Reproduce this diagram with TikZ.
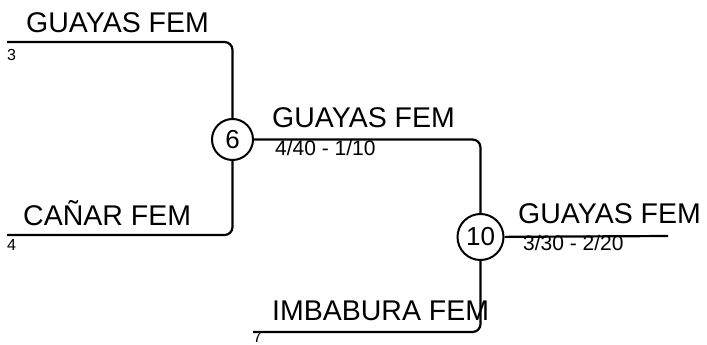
\documentclass[tikz,border=0pt]{standalone}
\usepackage{fontspec}
\setmainfont{Liberation Sans}
\usetikzlibrary{positioning}

\tikzset{
  team/.style={anchor=base west, inner sep=0pt, font=\fontsize{28.5}{30}\selectfont},
  score/.style={anchor=base west, inner sep=0pt, font=\fontsize{21}{22}\selectfont},
  seed/.style={anchor=base west, inner sep=0pt, font=\fontsize{16}{18}\selectfont},
  match/.style={draw, circle, line width=2pt, minimum size=41pt, inner sep=0pt,
    font=\fontsize{26}{28}\selectfont},
  bracket/.style={line width=2.2pt, rounded corners=8pt},
}

\begin{document}
\begin{tikzpicture}[x=1pt,y=-1pt]
\useasboundingbox (0,0) rectangle (707,345);

% MATCHES
\node[match] (m6) at (232.5,139.5) {6};
\node[match,minimum size=46pt] (m10) at (480.5,237) {10};

% GAME 6
\coordinate (s3) at (7,42);
\coordinate (s4) at (7,235);
\draw[bracket] (s3) -| (m6);
\draw[bracket] (s4) -| (m6);
\node[team] (t3) at (26,33) {GUAYAS FEM};
\node[seed] (n3) at (7,60) {3};
\node[team] (t4) at (23,225) {CAÑAR FEM};
\node[seed] (n4) at (7,250) {4};

% GAME 10
\coordinate (s7) at (253,332);
\coordinate (w10) at (668,236);
\draw[bracket] (m6) -| (m10);
\draw[bracket] (s7) -| (m10);
\draw[bracket] (m10) -- (w10);
\node[team] (t6) at (272,127) {GUAYAS FEM};
\node[score] (r6) at (275,155) {4/40 - 1/10};
\node[team] (t7) at (272,320) {IMBABURA FEM};
\node[seed] (n7) at (253,342) {7};
\node[team] (t10) at (518,223) {GUAYAS FEM};
\node[score] (r10) at (523,250) {3/30 - 2/20};
\end{tikzpicture}
\end{document}
